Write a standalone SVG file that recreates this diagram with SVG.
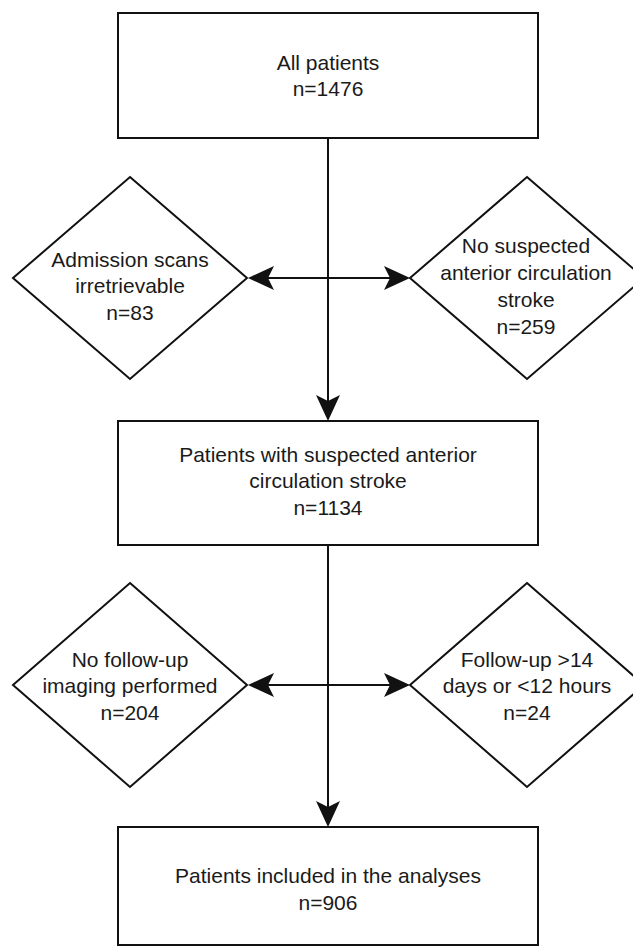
<svg xmlns="http://www.w3.org/2000/svg" width="633" height="948" viewBox="0 0 633 948">
<style>
.box{fill:#fff;stroke:#111;stroke-width:2}
.dia{fill:#fff;stroke:#111;stroke-width:2}
.t{font-family:"Liberation Sans",Arial,sans-serif;font-size:21px;fill:#1a1a1a;text-anchor:middle}
.c{stroke:#111;stroke-width:2;fill:none}
</style>
<defs>
<marker id="ah" viewBox="0 0 26 24" refX="22" refY="12" markerWidth="26" markerHeight="24" markerUnits="userSpaceOnUse" orient="auto-start-reverse">
<path d="M0,0 L26,12 L0,24 L6,12 Z" fill="#111"/>
</marker>
</defs>
<rect width="633" height="948" fill="#fff"/>
<g id="connectors">
<line class="c" x1="328" y1="138" x2="328" y2="417" marker-end="url(#ah)"/>
<line class="c" x1="328" y1="545" x2="328" y2="823" marker-end="url(#ah)"/>
<line class="c" x1="252" y1="278" x2="406" y2="278" marker-start="url(#ah)" marker-end="url(#ah)"/>
<line class="c" x1="252" y1="685" x2="406" y2="685" marker-start="url(#ah)" marker-end="url(#ah)"/>
</g>
<g id="all-patients">
<rect class="box" x="118" y="13" width="420" height="125"/>
<text class="t" x="328" y="70">All patients</text>
<text class="t" x="328" y="96">n=1476</text>
</g>
<g id="scans-irretrievable">
<polygon class="dia" points="130,177 247,278 130,379 13,278"/>
<text class="t" x="130" y="267">Admission scans</text>
<text class="t" x="130" y="293">irretrievable</text>
<text class="t" x="130" y="320">n=83</text>
</g>
<g id="no-suspected">
<polygon class="dia" points="527,177 644,278 527,379 410,278"/>
<text class="t" x="526" y="253">No suspected</text>
<text class="t" x="526" y="280">anterior circulation</text>
<text class="t" x="526" y="307">stroke</text>
<text class="t" x="526" y="334">n=259</text>
</g>
<g id="suspected-anterior">
<rect class="box" x="118" y="421" width="420" height="124"/>
<text class="t" x="328" y="462">Patients with suspected anterior</text>
<text class="t" x="328" y="488">circulation stroke</text>
<text class="t" x="328" y="515">n=1134</text>
</g>
<g id="no-follow-up">
<polygon class="dia" points="130,583 247,685 130,787 13,685"/>
<text class="t" x="130" y="667">No follow-up</text>
<text class="t" x="130" y="693">imaging performed</text>
<text class="t" x="130" y="720">n=204</text>
</g>
<g id="follow-up-timing">
<polygon class="dia" points="527,583 644,685 527,787 410,685"/>
<text class="t" x="527" y="667">Follow-up &gt;14</text>
<text class="t" x="527" y="693">days or &lt;12 hours</text>
<text class="t" x="527" y="720">n=24</text>
</g>
<g id="included">
<rect class="box" x="118" y="827" width="420" height="118"/>
<text class="t" x="328" y="883">Patients included in the analyses</text>
<text class="t" x="328" y="910">n=906</text>
</g>
</svg>
